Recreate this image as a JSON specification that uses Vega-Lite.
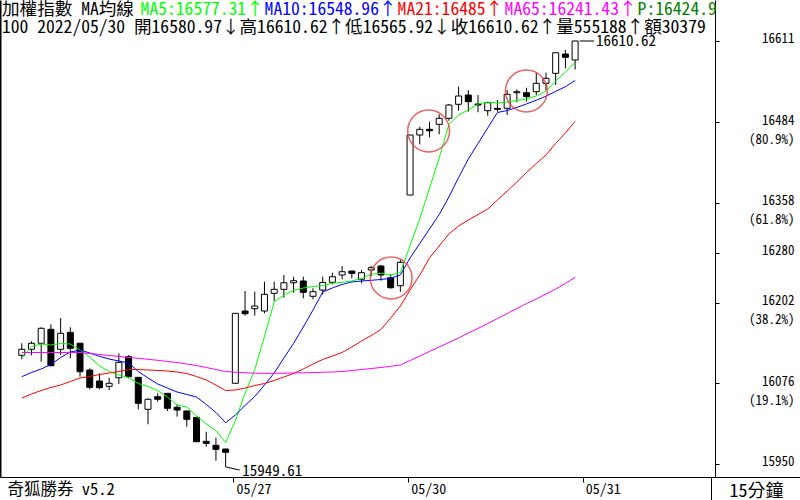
{
  "$schema": "https://vega.github.io/schema/vega-lite/v6.json",
  "width": 800,
  "height": 477,
  "autosize": {"type": "none"},
  "padding": {"left": 0, "top": 0, "right": 0, "bottom": 23},
  "background": "white",
  "config": {"view": {"stroke": null}},
  "title": {
    "text": "加權指數 MA均線",
    "subtitle": "100 2022/05/30 開16580.97↓高16610.62↑低16565.92↓收16610.62↑量555188↑額30379",
    "anchor": "start", "frame": "group", "orient": "top", "offset": -37, "dx": 2,
    "font": "Noto Sans Mono CJK TC, Noto Sans CJK TC, DejaVu Sans Mono, monospace",
    "fontSize": 17.6, "fontWeight": "normal", "color": "black",
    "subtitleFont": "Noto Sans Mono CJK TC, Noto Sans CJK TC, DejaVu Sans Mono, monospace",
    "subtitleFontSize": 17.6, "subtitleFontWeight": "normal", "subtitleColor": "black",
    "subtitlePadding": 1, "lineHeight": 18, "subtitleLineHeight": 18
  },
  "datasets": {
    "bars": [
      {"i":0,"o":16119.5,"h":16138.3,"l":16113.3,"c":16128.9,"MA5":16115.3,"MA10":16086.1,"MA21":16052.8,"MA65":16123.9},
      {"i":1,"o":16128.9,"h":16141.4,"l":16119.5,"c":16138.3,"MA5":16133.0,"MA10":16092.7,"MA21":16059.1,"MA65":16123.9},
      {"i":2,"o":16138.3,"h":16163.3,"l":16109.5,"c":16161.7,"MA5":16137.2,"MA10":16098.1,"MA21":16064.5,"MA65":16123.9},
      {"i":3,"o":16160.1,"h":16167.9,"l":16102.0,"c":16103.3,"MA5":16135.6,"MA10":16105.2,"MA21":16069.2,"MA65":16123.9},
      {"i":4,"o":16128.9,"h":16177.8,"l":16120.0,"c":16153.9,"MA5":16138.0,"MA10":16116.1,"MA21":16073.1,"MA65":16123.9},
      {"i":5,"o":16155.4,"h":16163.3,"l":16114.8,"c":16130.4,"MA5":16137.2,"MA10":16124.7,"MA21":16078.6,"MA65":16123.9},
      {"i":6,"o":16138.3,"h":16139.0,"l":16086.1,"c":16093.9,"MA5":16127.8,"MA10":16127.8,"MA21":16084.1,"MA65":16123.9},
      {"i":7,"o":16096.5,"h":16099.2,"l":16066.4,"c":16069.5,"MA5":16116.9,"MA10":16123.1,"MA21":16086.4,"MA65":16122.3},
      {"i":8,"o":16079.3,"h":16091.4,"l":16066.4,"c":16068.9,"MA5":16102.8,"MA10":16118.0,"MA21":16089.5,"MA65":16120.8},
      {"i":9,"o":16071.1,"h":16084.5,"l":16065.3,"c":16075.8,"MA5":16094.2,"MA10":16113.7,"MA21":16091.9,"MA65":16119.2},
      {"i":10,"o":16084.5,"h":16122.6,"l":16074.7,"c":16108.6,"MA5":16088.7,"MA10":16110.6,"MA21":16094.2,"MA65":16117.7},
      {"i":11,"o":16117.3,"h":16120.0,"l":16083.6,"c":16086.1,"MA5":16084.8,"MA10":16107.5,"MA21":16097.3,"MA65":16116.1},
      {"i":12,"o":16085.1,"h":16085.5,"l":16035.1,"c":16044.5,"MA5":16075.5,"MA10":16094.2,"MA21":16097.3,"MA65":16114.8},
      {"i":13,"o":16035.1,"h":16052.3,"l":16011.7,"c":16050.8,"MA5":16070.8,"MA10":16084.1,"MA21":16096.6,"MA65":16113.3},
      {"i":14,"o":16054.8,"h":16060.1,"l":16047.0,"c":16050.8,"MA5":16064.5,"MA10":16074.7,"MA21":16095.8,"MA65":16111.7},
      {"i":15,"o":16060.1,"h":16060.5,"l":16032.5,"c":16036.7,"MA5":16054.4,"MA10":16068.4,"MA21":16095.0,"MA65":16109.8},
      {"i":16,"o":16038.3,"h":16042.9,"l":16023.6,"c":16034.0,"MA5":16041.9,"MA10":16062.2,"MA21":16093.4,"MA65":16108.3},
      {"i":17,"o":16032.5,"h":16033.0,"l":16007.9,"c":16019.5,"MA5":16038.7,"MA10":16058.3,"MA21":16091.1,"MA65":16105.9},
      {"i":18,"o":16022.6,"h":16023.0,"l":15984.0,"c":15984.5,"MA5":16024.7,"MA10":16054.4,"MA21":16086.4,"MA65":16103.6},
      {"i":19,"o":15985.1,"h":16000.1,"l":15976.7,"c":15982.0,"MA5":16012.2,"MA10":16042.7,"MA21":16080.9,"MA65":16100.5},
      {"i":20,"o":15978.9,"h":15990.8,"l":15954.8,"c":15972.6,"MA5":16002.0,"MA10":16030.2,"MA21":16073.1,"MA65":16097.3},
      {"i":21,"o":15973.1,"h":15973.5,"l":15949.61,"c":15967.9,"MA5":15983.0,"MA10":16014.2,"MA21":16064.5,"MA65":16094.2},
      {"i":22,"o":16075.8,"h":16185.5,"l":16075.5,"c":16185.1,"MA5":16017.3,"MA10":16026.2,"MA21":16065.3,"MA65":16093.0},
      {"i":23,"o":16188.7,"h":16220.0,"l":16181.4,"c":16184.5,"MA5":16060.6,"MA10":16041.1,"MA21":16068.4,"MA65":16092.2},
      {"i":24,"o":16192.3,"h":16218.9,"l":16181.4,"c":16196.5,"MA5":16097.0,"MA10":16055.2,"MA21":16072.3,"MA65":16091.6},
      {"i":25,"o":16188.7,"h":16234.5,"l":16185.1,"c":16214.8,"MA5":16148.9,"MA10":16073.1,"MA21":16075.5,"MA65":16091.4},
      {"i":26,"o":16216.4,"h":16234.5,"l":16204.3,"c":16222.6,"MA5":16202.8,"MA10":16091.9,"MA21":16080.2,"MA65":16091.4},
      {"i":27,"o":16222.6,"h":16245.0,"l":16209.5,"c":16232.9,"MA5":16213.7,"MA10":16115.3,"MA21":16085.6,"MA65":16091.6},
      {"i":28,"o":16232.9,"h":16242.3,"l":16217.3,"c":16236.1,"MA5":16220.8,"MA10":16138.1,"MA21":16091.1,"MA65":16091.9},
      {"i":29,"o":16235.6,"h":16242.3,"l":16208.6,"c":16217.9,"MA5":16224.7,"MA10":16163.7,"MA21":16098.1,"MA65":16092.2},
      {"i":30,"o":16211.7,"h":16224.2,"l":16207.0,"c":16218.9,"MA5":16227.0,"MA10":16190.3,"MA21":16105.9,"MA65":16092.5},
      {"i":31,"o":16221.5,"h":16242.3,"l":16214.8,"c":16233.3,"MA5":16228.6,"MA10":16218.4,"MA21":16113.0,"MA65":16093.0},
      {"i":32,"o":16233.6,"h":16248.6,"l":16230.4,"c":16242.3,"MA5":16232.0,"MA10":16224.7,"MA21":16118.4,"MA65":16093.4},
      {"i":33,"o":16245.0,"h":16259.0,"l":16238.3,"c":16250.1,"MA5":16233.6,"MA10":16230.2,"MA21":16123.9,"MA65":16094.2},
      {"i":34,"o":16251.2,"h":16251.5,"l":16239.8,"c":16247.6,"MA5":16235.6,"MA10":16234.1,"MA21":16132.5,"MA65":16095.8},
      {"i":35,"o":16238.3,"h":16252.8,"l":16232.0,"c":16248.6,"MA5":16239.5,"MA10":16235.6,"MA21":16141.9,"MA65":16097.3},
      {"i":36,"o":16252.8,"h":16259.0,"l":16243.4,"c":16256.4,"MA5":16246.1,"MA10":16236.7,"MA21":16150.5,"MA65":16098.9},
      {"i":37,"o":16259.0,"h":16260.6,"l":16236.1,"c":16245.0,"MA5":16247.7,"MA10":16238.0,"MA21":16159.8,"MA65":16100.5},
      {"i":38,"o":16240.8,"h":16246.1,"l":16223.6,"c":16225.1,"MA5":16245.0,"MA10":16239.8,"MA21":16177.8,"MA65":16102.3},
      {"i":39,"o":16228.3,"h":16268.4,"l":16218.9,"c":16264.8,"MA5":16248.6,"MA10":16245.0,"MA21":16196.6,"MA65":16104.4},
      {"i":40,"o":16370.0,"h":16464.0,"l":16369.5,"c":16463.7,"MA5":16290.9,"MA10":16271.6,"MA21":16221.6,"MA65":16111.4},
      {"i":41,"o":16463.7,"h":16476.7,"l":16449.2,"c":16472.6,"MA5":16333.1,"MA10":16294.2,"MA21":16245.0,"MA65":16118.4},
      {"i":42,"o":16472.6,"h":16484.5,"l":16460.1,"c":16470.4,"MA5":16380.3,"MA10":16316.9,"MA21":16271.6,"MA65":16125.5},
      {"i":43,"o":16480.4,"h":16496.1,"l":16464.8,"c":16489.8,"MA5":16428.0,"MA10":16339.5,"MA21":16290.3,"MA65":16132.5},
      {"i":44,"o":16489.8,"h":16512.2,"l":16486.1,"c":16510.6,"MA5":16480.2,"MA10":16366.9,"MA21":16309.1,"MA65":16139.5},
      {"i":45,"o":16511.7,"h":16539.2,"l":16501.7,"c":16524.7,"MA5":16495.0,"MA10":16397.3,"MA21":16321.6,"MA65":16146.6},
      {"i":46,"o":16526.2,"h":16534.0,"l":16500.1,"c":16515.8,"MA5":16502.8,"MA10":16426.2,"MA21":16330.9,"MA65":16154.4},
      {"i":47,"o":16512.2,"h":16526.2,"l":16499.2,"c":16510.6,"MA5":16512.2,"MA10":16450.5,"MA21":16339.5,"MA65":16161.4},
      {"i":48,"o":16501.7,"h":16514.5,"l":16493.9,"c":16514.2,"MA5":16515.3,"MA10":16474.7,"MA21":16348.1,"MA65":16169.2},
      {"i":49,"o":16505.4,"h":16518.4,"l":16500.1,"c":16503.9,"MA5":16513.7,"MA10":16498.9,"MA21":16362.2,"MA65":16177.0},
      {"i":50,"o":16505.4,"h":16534.0,"l":16495.0,"c":16527.3,"MA5":16515.3,"MA10":16502.0,"MA21":16376.2,"MA65":16184.8},
      {"i":51,"o":16529.8,"h":16535.1,"l":16514.8,"c":16531.4,"MA5":16517.7,"MA10":16506.7,"MA21":16390.3,"MA65":16192.6},
      {"i":52,"o":16529.8,"h":16537.6,"l":16515.8,"c":16523.6,"MA5":16520.0,"MA10":16512.3,"MA21":16405.2,"MA65":16200.5},
      {"i":53,"o":16531.4,"h":16561.1,"l":16526.2,"c":16544.5,"MA5":16524.7,"MA10":16518.0,"MA21":16419.2,"MA65":16207.5},
      {"i":54,"o":16544.5,"h":16561.1,"l":16534.0,"c":16552.3,"MA5":16532.5,"MA10":16524.4,"MA21":16432.5,"MA65":16215.3},
      {"i":55,"o":16560.1,"h":16592.5,"l":16541.9,"c":16592.3,"MA5":16548.1,"MA10":16531.9,"MA21":16450.5,"MA65":16223.1},
      {"i":56,"o":16590.3,"h":16596.6,"l":16568.0,"c":16585.1,"MA5":16562.2,"MA10":16539.2,"MA21":16466.9,"MA65":16231.7},
      {"i":57,"o":16580.97,"h":16610.62,"l":16565.92,"c":16610.62,"MA5":16577.31,"MA10":16548.96,"MA21":16485.0,"MA65":16241.43}
    ],
    "circles": [
      {"i":41.91,"v":16470.0},
      {"i":38.05,"v":16240.3},
      {"i":51.98,"v":16532.5}
    ],
    "hi": [{"i":57,"v":16610.62,"t":"16610.62"}],
    "lo": [{"i":21,"v":15949.61,"t":"15949.61"}]
  },
  "encoding": {
    "x": {
      "field": "i", "type": "quantitative",
      "scale": {"domain": [-1.7294, 79.654], "nice": false, "zero": false},
      "axis": {
        "values": [-1.526, 21.8, 39.8, 57.8, 71.0],
        "title": null, "grid": false,
        "domainColor": "black", "domainWidth": 1, "tickColor": "black", "labelColor": "black",
        "labelAlign": "left", "labelBaseline": "middle",
        "labelFlush": false, "labelOverlap": false, "labelBound": false,
        "labelFont": "Noto Sans Mono CJK TC, Noto Sans CJK TC, DejaVu Sans Mono, monospace",
        "labelExpr": "datum.value < 0 ? '奇狐勝券 v5.2' : datum.value > 70 ? '15分鐘' : datum.value < 30 ? '05/27' : datum.value < 50 ? '05/30' : '05/31'",
        "tickSize": {"condition": [{"test": "datum.value < 0", "value": 0}, {"test": "datum.value > 70", "value": 23}], "value": 5},
        "labelPadding": {"condition": [{"test": "datum.value < 0", "value": 12}, {"test": "datum.value > 70", "value": -9}], "value": 7},
        "labelOffset": {"condition": [{"test": "datum.value < 0", "value": 0}, {"test": "datum.value > 70", "value": 18}], "value": 2.5},
        "labelFontSize": {"condition": [{"test": "datum.value < 0", "value": 16.5}, {"test": "datum.value > 70", "value": 18}], "value": 14}
      }
    }
  },
  "resolve": {"axis": {"y": "independent"}},
  "layer": [
    {
      "data": {"name": "bars"},
      "mark": {"type": "rule", "color": "black", "strokeWidth": 1},
      "encoding": {
        "y": {"field": "l", "type": "quantitative",
          "scale": {"domain": [15929.37, 16674.68], "nice": false, "zero": false},
          "axis": {"orient": "left", "labels": false, "ticks": false, "domain": true, "domainColor": "black", "domainWidth": 2, "title": null, "grid": false}},
        "y2": {"field": "h"}
      }
    },
    {
      "data": {"name": "bars"},
      "mark": {"type": "bar", "width": 6, "stroke": "black", "strokeWidth": 1, "orient": "vertical"},
      "encoding": {
        "y": {"field": "o", "type": "quantitative",
          "scale": {"domain": [15929.37, 16674.68], "nice": false, "zero": false},
          "axis": {
            "orient": "right", "offset": -85,
            "values": [15950, 16076, 16202, 16280, 16358, 16484, 16611],
            "format": "d",
            "labelExpr": "datum.value == 16484 ? ['16484','(80.9%)'] : datum.value == 16358 ? ['16358','(61.8%)'] : datum.value == 16202 ? ['16202','(38.2%)'] : datum.value == 16076 ? ['16076','(19.1%)'] : datum.label",
            "title": null, "grid": false,
            "domainColor": "black", "tickColor": "black", "tickSize": 4,
            "labelAlign": "right", "labelBaseline": "top", "labelOffset": -8, "labelPadding": 75,
            "labelFont": "Noto Sans Mono CJK TC, Noto Sans CJK TC, DejaVu Sans Mono, monospace",
            "labelFontSize": 13, "labelColor": "black", "labelLineHeight": 19,
            "labelOverlap": false, "labelFlush": false, "labelBound": false
          }},
        "y2": {"field": "c"},
        "fill": {"condition": {"test": "datum.c >= datum.o", "value": "white"}, "value": "black"}
      }
    },
    {
      "data": {"name": "bars"},
      "transform": [{"fold": ["MA5", "MA10", "MA21", "MA65"], "as": ["ma", "v"]}],
      "mark": {"type": "line", "strokeWidth": 1},
      "encoding": {
        "y": {"field": "v", "type": "quantitative",
          "scale": {"domain": [15929.37, 16674.68], "nice": false, "zero": false}, "axis": null},
        "color": {
          "field": "ma", "type": "nominal",
          "scale": {"domain": ["MA5", "MA10", "MA21", "MA65", "P"], "range": ["#00ff00", "#0000ff", "#ff0000", "#ff00ff", "#008000"]},
          "legend": {
            "orient": "none", "legendX": 140, "legendY": 1, "direction": "horizontal",
            "title": null, "padding": 0, "columnPadding": 0, "rowPadding": 0, "gridAlign": "none",
            "labelOffset": -17, "symbolSize": 0, "symbolStrokeWidth": 0, "symbolOpacity": 0,
            "labelFont": "Noto Sans Mono CJK TC, Noto Sans CJK TC, DejaVu Sans Mono, monospace",
            "labelFontSize": 17.6, "labelLimit": 400,
            "labelExpr": "datum.label == 'MA5' ? 'MA5:16577.31↑' : datum.label == 'MA10' ? 'MA10:16548.96↑' : datum.label == 'MA21' ? 'MA21:16485↑' : datum.label == 'MA65' ? 'MA65:16241.43↑' : 'P:16424.9'",
            "labelColor": {"expr": "datum.value == 'MA5' ? '#00ff00' : datum.value == 'MA10' ? '#0000ff' : datum.value == 'MA21' ? '#ff0000' : datum.value == 'MA65' ? '#ff00ff' : '#008000'"}
          }
        }
      }
    },
    {
      "data": {"name": "circles"},
      "mark": {"type": "point", "shape": "circle", "filled": false, "size": 1750, "stroke": "#e83c3c", "strokeWidth": 1.5, "opacity": 0.8},
      "encoding": {
        "y": {"field": "v", "type": "quantitative",
          "scale": {"domain": [15929.37, 16674.68], "nice": false, "zero": false}, "axis": null}
      }
    },
    {
      "data": {"name": "hi"},
      "mark": {"type": "rule", "color": "black", "strokeWidth": 1, "xOffset": 4.5, "x2Offset": 19},
      "encoding": {
        "x2": {"field": "i"},
        "y": {"field": "v", "type": "quantitative",
          "scale": {"domain": [15929.37, 16674.68], "nice": false, "zero": false}, "axis": null}
      }
    },
    {
      "data": {"name": "hi"},
      "mark": {"type": "text", "align": "left", "baseline": "middle", "dx": 21, "fontSize": 15, "color": "black",
        "font": "Noto Sans Mono CJK TC, Noto Sans CJK TC, DejaVu Sans Mono, monospace"},
      "encoding": {
        "y": {"field": "v", "type": "quantitative",
          "scale": {"domain": [15929.37, 16674.68], "nice": false, "zero": false}, "axis": null},
        "text": {"field": "t"}
      }
    },
    {
      "data": {"name": "lo"},
      "mark": {"type": "rule", "color": "black", "strokeWidth": 1, "yOffset": 0, "y2Offset": 3},
      "encoding": {
        "y": {"field": "v", "type": "quantitative",
          "scale": {"domain": [15929.37, 16674.68], "nice": false, "zero": false}, "axis": null},
        "y2": {"field": "v"}
      }
    },
    {
      "data": {"name": "lo"},
      "mark": {"type": "rule", "color": "black", "strokeWidth": 1, "xOffset": 0.5, "x2Offset": 14, "yOffset": 3, "y2Offset": 6},
      "encoding": {
        "x2": {"field": "i"},
        "y": {"field": "v", "type": "quantitative",
          "scale": {"domain": [15929.37, 16674.68], "nice": false, "zero": false}, "axis": null},
        "y2": {"field": "v"}
      }
    },
    {
      "data": {"name": "lo"},
      "mark": {"type": "text", "align": "left", "baseline": "middle", "dx": 16.5, "dy": 6.5, "fontSize": 15, "color": "black",
        "font": "Noto Sans Mono CJK TC, Noto Sans CJK TC, DejaVu Sans Mono, monospace"},
      "encoding": {
        "y": {"field": "v", "type": "quantitative",
          "scale": {"domain": [15929.37, 16674.68], "nice": false, "zero": false}, "axis": null},
        "text": {"field": "t"}
      }
    }
  ]
}
